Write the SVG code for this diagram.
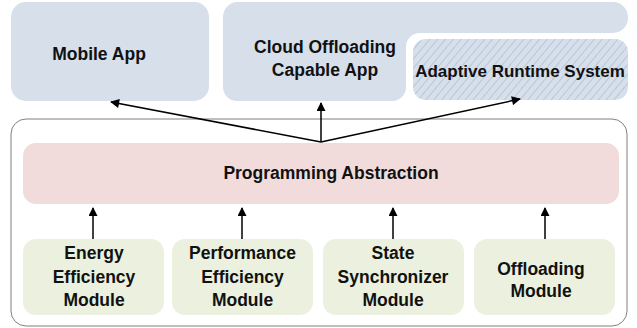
<svg xmlns="http://www.w3.org/2000/svg" width="637" height="328" viewBox="0 0 637 328">
<style>
text{font-family:"Liberation Sans",Arial,sans-serif;font-weight:bold;font-size:17.5px;fill:#111;text-anchor:middle}
.blue{fill:#d6dfea}
.green{fill:#ebf1de}
.conn{stroke:#000;stroke-width:1.5;fill:none}
</style>
<defs>
<pattern id="hatch" patternUnits="userSpaceOnUse" width="6" height="6" patternTransform="rotate(40)">
<rect width="6" height="6" fill="#d6dfea"/>
<line x1="0" y1="0" x2="0" y2="6" stroke="#98afcc" stroke-width="1"/>
</pattern>
<marker id="ah" viewBox="0 0 10 10" refX="9" refY="5" markerWidth="10" markerHeight="9" markerUnits="userSpaceOnUse" orient="auto">
<path d="M0,0 L10,5 L0,10 Z" fill="#000"/>
</marker>
</defs>
<g id="frame">
<rect x="11" y="119" width="616" height="207" rx="15" fill="#fff" stroke="#7f7f7f" stroke-width="1"/>
</g>
<g id="mobile-app">
<rect class="blue" x="11" y="2" width="198" height="99" rx="15"/>
<text x="99" y="60">Mobile App</text>
</g>
<g id="cloud-app">
<path class="blue" d="M238,2 H613 A15,15 0 0 1 628,17 V18 A15,15 0 0 1 613,33 H420 A14,14 0 0 0 406,47 V87 A14,14 0 0 1 392,101 H237 A14,14 0 0 1 223,87 V17 A15,15 0 0 1 238,2 Z"/>
<text x="325" y="53">Cloud Offloading</text>
<text x="325" y="76">Capable App</text>
</g>
<g id="runtime">
<rect x="413" y="39" width="215" height="61" rx="13" fill="url(#hatch)"/>
<text x="520" y="77" style="font-size:17px">Adaptive Runtime System</text>
</g>
<g id="abstraction">
<rect x="23" y="143" width="596" height="61" rx="13" fill="#f2dcdb"/>
<text x="331" y="179">Programming Abstraction</text>
</g>
<g id="energy">
<rect class="green" x="23" y="239" width="141" height="76" rx="13"/>
<text x="94" y="259">Energy</text>
<text x="94" y="283">Efficiency</text>
<text x="94" y="306">Module</text>
</g>
<g id="performance">
<rect class="green" x="172" y="239" width="141" height="76" rx="13"/>
<text x="242.5" y="259">Performance</text>
<text x="242.5" y="283">Efficiency</text>
<text x="242.5" y="306">Module</text>
</g>
<g id="state">
<rect class="green" x="323" y="239" width="141" height="76" rx="13"/>
<text x="393" y="259">State</text>
<text x="393" y="283">Synchronizer</text>
<text x="393" y="306">Module</text>
</g>
<g id="offloading">
<rect class="green" x="474" y="239" width="141" height="76" rx="13"/>
<text x="541" y="275">Offloading</text>
<text x="541" y="297">Module</text>
</g>
<g id="connectors">
<line class="conn" x1="321" y1="142" x2="111" y2="102" marker-end="url(#ah)"/>
<line class="conn" x1="321" y1="142" x2="321" y2="103" marker-end="url(#ah)"/>
<line class="conn" x1="321" y1="142" x2="520" y2="99" marker-end="url(#ah)"/>
<line class="conn" x1="93" y1="239" x2="93" y2="208" marker-end="url(#ah)"/>
<line class="conn" x1="242" y1="239" x2="242" y2="208" marker-end="url(#ah)"/>
<line class="conn" x1="393" y1="239" x2="393" y2="208" marker-end="url(#ah)"/>
<line class="conn" x1="545" y1="239" x2="545" y2="208" marker-end="url(#ah)"/>
</g>
</svg>
